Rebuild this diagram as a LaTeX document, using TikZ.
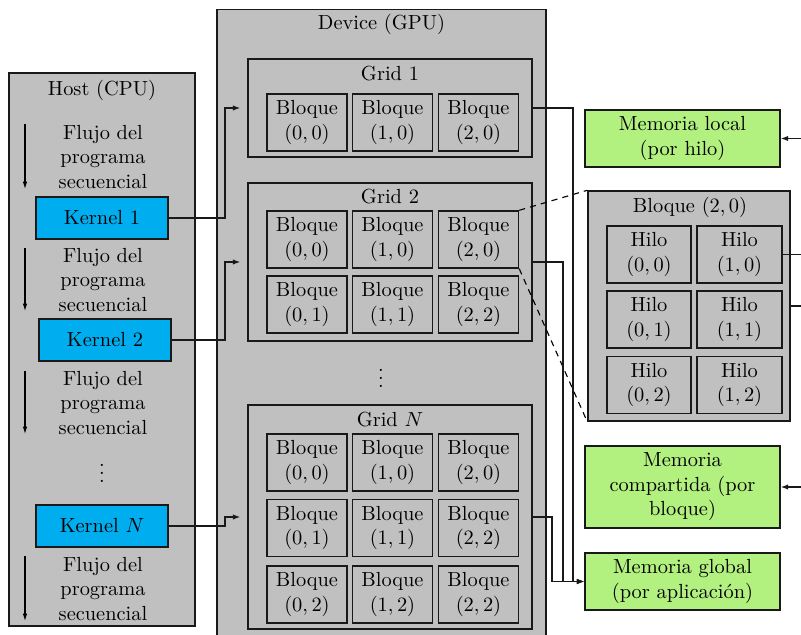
\documentclass[tikz,border=0pt]{standalone}
\usetikzlibrary{arrows.meta}
\def\px{0.49pt}
\definecolor{boxgray}{RGB}{192,192,192}
\definecolor{kernelblue}{RGB}{0,174,239}
\definecolor{memgreen}{RGB}{178,240,128}
\begin{document}
\begin{tikzpicture}[x=0.49pt,y=-0.49pt,
  frame/.style={draw=black!90, line width=0.7pt, fill=boxgray, inner sep=0pt},
  cell/.style={frame, align=center, inner sep=1pt,
    minimum width=80*\px, minimum height=57*\px},
  hilo/.style={cell, minimum width=85*\px},
  kernel/.style={draw=black!90, line width=0.7pt, fill=kernelblue,
    minimum width=132*\px, minimum height=42*\px},
  mem/.style={draw=black!90, line width=0.7pt, fill=memgreen, align=center,
    minimum width=195*\px, inner sep=1pt},
  label/.style={align=center, inner sep=0pt},
  conn/.style={line width=0.6pt, draw=black!90},
  arr/.style={conn, -{Latex[length=3.6pt,width=2.6pt]}},
  flow/.style={line width=0.5pt, -{Latex[length=3.6pt,width=2.2pt]}},
  link/.style={line width=0.55pt, dash pattern=on 3pt off 2.5pt}
]
\useasboundingbox (0,0) rectangle (801,635);
\clip (0,0) rectangle (801,635);

% ---------------- Device (GPU) ----------------
\node[frame, minimum width=329*\px, minimum height=660*\px, anchor=north] (dev) at (381.5,9) {};
\node[label] (devt) at (381.5,24) {Device (GPU)};

% Grid 1
\node[frame, minimum width=284*\px, minimum height=98*\px] (g1) at (390,108) {};
\node[label] (g1t) at (390,74) {Grid 1};
\node[cell] (g1a) at (307,122.5)   {Bloque\\$(0,0)$};
\node[cell] (g1b) at (392.5,122.5) {Bloque\\$(1,0)$};
\node[cell] (g1c) at (478.5,122.5) {Bloque\\$(2,0)$};

% Grid 2
\node[frame, minimum width=284*\px, minimum height=158*\px] (g2) at (390,262) {};
\node[label] (g2t) at (390,197) {Grid 2};
\node[cell] (g2a) at (307,239.5)   {Bloque\\$(0,0)$};
\node[cell] (g2b) at (392.5,239.5) {Bloque\\$(1,0)$};
\node[cell] (g2c) at (478.5,239.5) {Bloque\\$(2,0)$};
\node[cell] (g2d) at (307,304.5)   {Bloque\\$(0,1)$};
\node[cell] (g2e) at (392.5,304.5) {Bloque\\$(1,1)$};
\node[cell] (g2f) at (478.5,304.5) {Bloque\\$(2,2)$};

\node[label] (gdots) at (381,372) {$\vdots$};

% Grid N
\node[frame, minimum width=284*\px, minimum height=224*\px] (gn) at (390,517) {};
\node[label] (gnt) at (390,420) {Grid $N$};
\node[cell] (gna) at (307,462.5)   {Bloque\\$(0,0)$};
\node[cell] (gnb) at (392.5,462.5) {Bloque\\$(1,0)$};
\node[cell] (gnc) at (478.5,462.5) {Bloque\\$(2,0)$};
\node[cell] (gnd) at (307,528)     {Bloque\\$(0,1)$};
\node[cell] (gne) at (392.5,528)   {Bloque\\$(1,1)$};
\node[cell] (gnf) at (478.5,528)   {Bloque\\$(2,2)$};
\node[cell] (gng) at (307,594.5)   {Bloque\\$(0,2)$};
\node[cell] (gnh) at (392.5,594.5) {Bloque\\$(1,2)$};
\node[cell] (gni) at (478.5,594.5) {Bloque\\$(2,2)$};

% ---------------- Host (CPU) ----------------
\node[frame, minimum width=186*\px, minimum height=553*\px] (host) at (102,349.5) {};
\node[label] (hostt) at (102,90) {Host (CPU)};

\node[label] (f1) at (103,157) {Flujo del\\programa\\secuencial};
\node[label] (f2) at (103,280) {Flujo del\\programa\\secuencial};
\node[label] (f3) at (103,403) {Flujo del\\programa\\secuencial};
\node[label] (f4) at (103,589) {Flujo del\\programa\\secuencial};
\node[label] (hdots) at (102,467) {$\vdots$};

\coordinate (a1s) at (25,124); \coordinate (a1e) at (25,189);
\coordinate (a2s) at (25,248); \coordinate (a2e) at (25,311);
\coordinate (a3s) at (25,371); \coordinate (a3e) at (25,434);
\coordinate (a4s) at (25,556); \coordinate (a4e) at (25,621);
\draw[flow] (a1s) -- (a1e);
\draw[flow] (a2s) -- (a2e);
\draw[flow] (a3s) -- (a3e);
\draw[flow] (a4s) -- (a4e);

\node[kernel] (k1) at (102,218) {Kernel 1};
\node[kernel] (k2) at (105,340) {Kernel 2};
\node[kernel] (kn) at (102,526) {Kernel $N$};

% kernel launches
\coordinate (kx) at (225,0);
\draw[arr, shorten >=7*\px] (k1.east) -- (k1.east -| kx) |- (g1.west);
\draw[arr, shorten >=7*\px] (k2.east) -- (k2.east -| kx) |- (g2.west);
\draw[arr, shorten >=7*\px] (kn.east) -- (kn.east -| kx) |- (gn.west);

% ---------------- Memories ----------------
\node[mem, minimum height=57*\px] (loc) at (682.5,138.5) {Memoria local\\(por hilo)};
\node[mem, minimum height=82*\px] (shr) at (682.5,487) {Memoria\\compartida (por\\bloque)};
\node[mem, minimum height=57*\px] (glob) at (682.5,581.5) {Memoria global\\(por aplicación)};

% block detail
\node[frame, minimum width=202*\px, minimum height=230*\px] (det) at (689,306) {};
\node[label] (dett) at (690,207) {Bloque $(2,0)$};
\node[hilo, minimum width=84*\px] (h00) at (649,254.5)   {Hilo\\$(0,0)$};
\node[hilo] (h10) at (739.5,254.5) {Hilo\\$(1,0)$};
\node[hilo, minimum width=84*\px] (h01) at (649,319.5)   {Hilo\\$(0,1)$};
\node[hilo] (h11) at (739.5,319.5) {Hilo\\$(1,1)$};
\node[hilo, minimum width=84*\px] (h02) at (649,385)     {Hilo\\$(0,2)$};
\node[hilo] (h12) at (739.5,385)   {Hilo\\$(1,2)$};

\draw[link] (g2c.north east) -- (det.north west);
\draw[link] (g2c.south east) -- (det.south west);

% grids to global memory
\coordinate (gx1) at (573,0);
\coordinate (gx2) at (563,0);
\coordinate (gx3) at (552,0);
\draw[arr] (g1.east) -- (g1.east -| gx1) |- (glob.west);
\draw[arr] (g2.east) -- (g2.east -| gx2) |- (glob.west);
\draw[arr] (gn.east) -- (gn.east -| gx3) |- (glob.west);

% links leaving to the right
\coordinate (rx) at (820,0);
\draw[arr] (loc.east -| rx) -- (loc.east);
\draw[arr] (shr.east -| rx) -- (shr.east);
\draw[conn] (h10.east) -- (h10.east -| rx);
\draw[conn] (det.east) -- (det.east -| rx);
\end{tikzpicture}
\end{document}
